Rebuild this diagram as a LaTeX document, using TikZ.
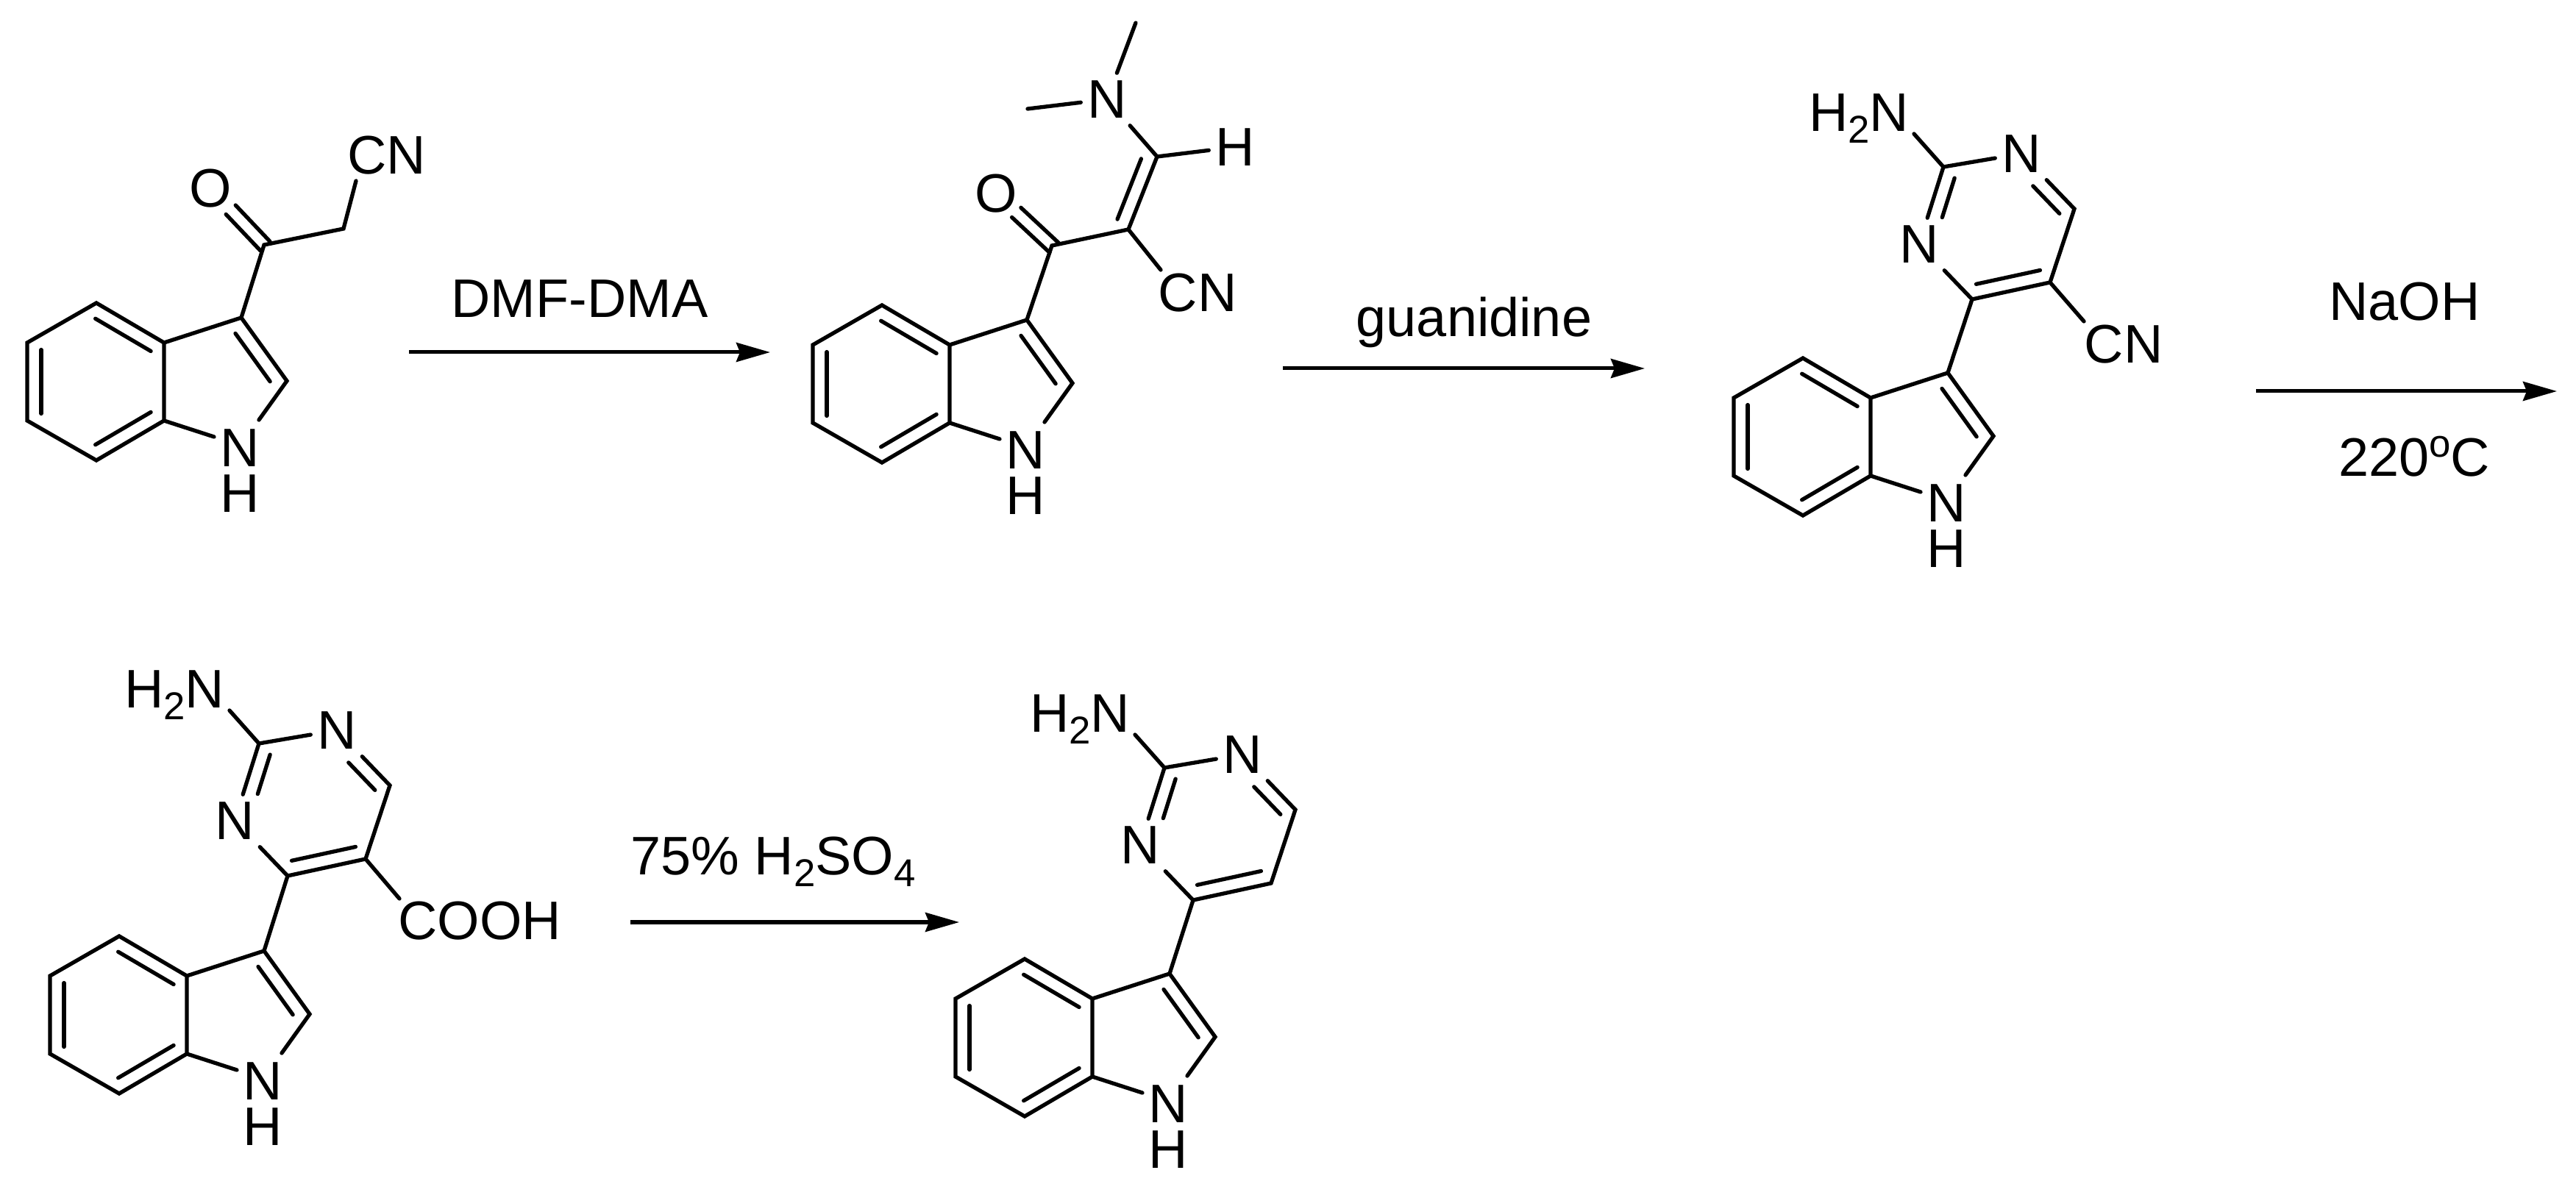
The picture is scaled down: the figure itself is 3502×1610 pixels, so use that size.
\documentclass[tikz,border=0pt]{standalone}
\usepackage{fontspec}
\setsansfont{Liberation Sans}
\usetikzlibrary{arrows.meta,calc}

\newcommand{\subidx}[1]{\raisebox{-0.21em}{\fontsize{15}{15}\selectfont #1}}
\newcommand{\supidx}[1]{\raisebox{0.36em}{\fontsize{15}{15}\selectfont #1}}
% second line of a double bond, to the left of a->b
\newcommand{\innerbond}[5][.19cm]{\draw[bond] ($(#2)!#4!(#3)!#1!90:(#3)$) -- ($(#2)!#5!(#3)!#1!90:(#3)$);}

\tikzset{
    bond/.style={line width=0.053cm, line cap=round},
    rxn/.style={line width=0.05cm, -{Stealth[length=0.46cm, width=0.26cm, inset=0.05cm]}},
    lbl/.style={inner sep=0pt},
    atom/.style={lbl, minimum size=0.7cm},
    indole/.pic={
        \coordinate (-c3) at (0,0);
        \coordinate (-c2) at (62,86);
        \coordinate (-c3a) at (-105,34);
        \coordinate (-c4) at (-197,-20);
        \coordinate (-c5) at (-291,34);
        \coordinate (-c6) at (-291,140);
        \coordinate (-c7) at (-197,194);
        \coordinate (-c7a) at (-105,140);
        \coordinate (-nl) at (-37,162);
        \coordinate (-nr) at (24,139);
        \node[lbl, anchor=south, align=center, font=\sffamily\fontsize{21}{17.6}\selectfont] (-nh) at (-2,265) {N\\H};
        \draw[bond] (-c3a) -- (-c4) -- (-c5) -- (-c6) -- (-c7) -- (-c7a) -- cycle;
        \draw[bond] (-c3a) -- (-c3) -- (-c2) -- (-nr);
        \draw[bond] (-c7a) -- (-nl);
        \innerbond{-c3a}{-c4}{.09}{.91}
        \innerbond{-c5}{-c6}{.09}{.91}
        \innerbond{-c7}{-c7a}{.09}{.91}
        \innerbond{-c2}{-c3}{.12}{.88}
    },
    pyrimidine/.pic={
        \coordinate (-c4) at (0,0);
        \coordinate (-c5) at (106,-23);
        \coordinate (-c6) at (139,-123);
        \coordinate (-c2) at (-39,-180);
        \coordinate (-nb) at (-79,-225);
        \node[atom] (-n1) at (67,-198) {N};
        \node[atom] (-n3) at (-72,-75) {N};
        \node[lbl, anchor=base east] (-amine) at (-85,-228) {H\subidx{2}N};
        \draw[bond] (-c4) -- (-c5) -- (-c6) -- (-n1) -- (-c2) -- (-n3) -- (-c4);
        \draw[bond] (-c2) -- (-nb);
        \innerbond{-c2}{-n3}{.09}{.6}
        \innerbond{-c6}{-n1}{.09}{.59}
        \innerbond{-c4}{-c5}{.09}{.91}
    }
}

\begin{document}
\begin{tikzpicture}[x=0.01cm, y=-0.01cm, font=\sffamily\fontsize{21}{24}\selectfont]
    \useasboundingbox (0,0) rectangle (3502,1610);

    \foreach \n/\x/\y in {ind1/328/432, ind2/1396/435, ind3/2648/507, ind4/359/1293, ind5/1590/1324}
        \pic (\n) at (\x,\y) {indole};
    \foreach \n/\x/\y in {pyr3/2681/407, pyr4/391/1191, pyr5/1622/1224}
        \pic (\n) at (\x,\y) {pyrimidine};
    \foreach \n in {3,4,5} \draw[bond] (pyr\n-c4) -- (ind\n-c3);

    % first compound
    \coordinate (co1) at (359,333);
    \coordinate (ch1) at (467,311);
    \coordinate (cnb1) at (484,246);
    \node[atom] (o1) at (286,256) {O};
    \node[lbl] (cn1) at (526,211) {CN};
    \draw[bond] (ind1-c3) -- (co1) -- (ch1) -- (cnb1);
    \innerbond[.09cm]{co1}{o1}{-.02}{.62}
    \innerbond[-.09cm]{co1}{o1}{-.02}{.62}

    % second compound
    \coordinate (co2) at (1430,334);
    \coordinate (ca2) at (1534,312);
    \coordinate (cb2) at (1573,213);
    \coordinate (cnb2) at (1578,367);
    \coordinate (me2a) at (1397,148);
    \coordinate (me2b) at (1544,31);
    \node[atom] (o2) at (1354,263) {O};
    \node[atom] (n2) at (1505,135) {N};
    \node[atom] (h2) at (1679,200) {H};
    \node[lbl] (cn2) at (1628,398) {CN};
    \draw[bond] (ind2-c3) -- (co2) -- (ca2) -- (cb2) -- (n2) -- (me2a);
    \draw[bond] (n2) -- (me2b);
    \draw[bond] (cb2) -- (h2);
    \draw[bond] (ca2) -- (cnb2);
    \innerbond{ca2}{cb2}{.07}{.9}
    \innerbond[.09cm]{co2}{o2}{-.04}{.635}
    \innerbond[-.09cm]{co2}{o2}{-.04}{.635}

    % side groups on the pyrimidines
    \coordinate (cnb3) at (2833,437);
    \coordinate (cob4) at (543,1222);
    \node[lbl] (cn3) at (2887,468) {CN};
    \node[lbl] (cooh4) at (652,1252) {COOH};
    \draw[bond] (pyr3-c5) -- (cnb3);
    \draw[bond] (pyr4-c5) -- (cob4);

    % arrows and their labels
    \foreach \n/\xa/\xb/\y in {a1/556/1047/479, a2/1744/2236/501, a3/3067/3476/532, a4/857/1304/1254} {
        \coordinate (\n s) at (\xa,\y);
        \coordinate (\n e) at (\xb,\y);
        \draw[rxn] (\n s) -- (\n e);
    }
    \node[lbl, anchor=base] (dmf) at (788,432) {DMF-DMA};
    \node[lbl, anchor=base] (gua) at (2004,458) {guanidine};
    \node[lbl, anchor=base] (naoh) at (3269,436) {NaOH};
    \node[lbl, anchor=base] (temp) at (3282,648) {220\supidx{o}C};
    \node[lbl, anchor=base west] (acid) at (857,1190) {75\% H\subidx{2}SO\subidx{4}};
\end{tikzpicture}
\end{document}
